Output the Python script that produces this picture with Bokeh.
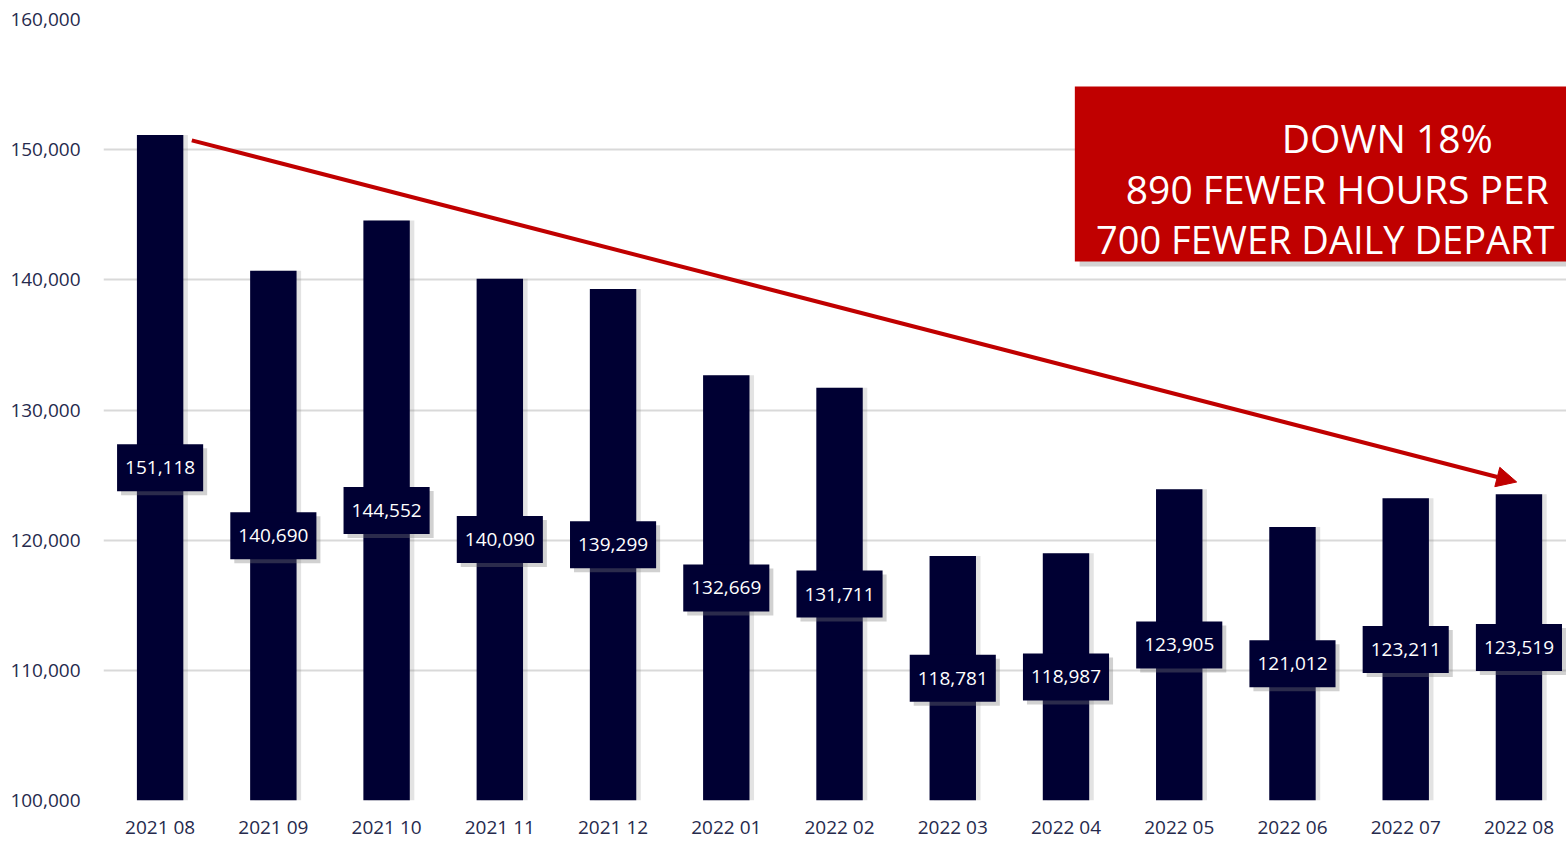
from bokeh.plotting import figure
from bokeh.models import (Range1d, FixedTicker, NumeralTickFormatter, ColumnDataSource,
                          Arrow, NormalHead, BoxAnnotation, Label)
from bokeh.core.properties import value
from bokeh.embed import file_html
from bokeh.resources import INLINE

categories = ["2021 08", "2021 09", "2021 10", "2021 11", "2021 12", "2022 01", "2022 02",
              "2022 03", "2022 04", "2022 05", "2022 06", "2022 07", "2022 08"]
values = [151118, 140690, 144552, 140090, 139299, 132669, 131711,
          118781, 118987, 123905, 121012, 123211, 123519]
y_ticks = [100000, 110000, 120000, 130000, 140000, 150000, 160000]
callout_lines = ["DOWN 18%", "890 FEWER HOURS PER", "700 FEWER DAILY DEPART"]

BASE = 100000
NAVY = "#000033"
RED = "#c00000"
FONT = "Open Sans"
AXIS_TEXT = "#262a4d"

xs = list(range(len(categories)))
src = ColumnDataSource(dict(
    x=xs,
    top=values,
    mid=[BASE + (v - BASE) / 2 for v in values],
    label=[f"{v:,}" for v in values],
    xs_shadow=[x + 0.04 for x in xs],
))

p = figure(width=1566, height=842, output_backend="svg", toolbar_location=None,
           x_range=Range1d(-0.5, 12.42), y_range=Range1d(100000, 160000),
           min_border_left=103, min_border_right=0, min_border_top=19, min_border_bottom=42)
p.outline_line_color = None
p.background_fill_color = "white"
p.border_fill_color = "white"

# axes
p.xaxis.ticker = FixedTicker(ticks=xs)
p.xaxis.major_label_overrides = {i: c for i, c in enumerate(categories)}
p.yaxis.ticker = FixedTicker(ticks=y_ticks)
p.yaxis.formatter = NumeralTickFormatter(format="0,0")
for ax in (p.xaxis, p.yaxis):
    ax.axis_line_color = None
    ax.major_tick_line_color = None
    ax.minor_tick_line_color = None
    ax.major_tick_out = 0
    ax.major_label_text_font = FONT
    ax.major_label_text_font_size = "19px"
    ax.major_label_text_color = AXIS_TEXT
p.yaxis.major_label_standoff = 23
p.xaxis.major_label_standoff = 13

p.xgrid.grid_line_color = None
p.ygrid.ticker = FixedTicker(ticks=y_ticks)
p.ygrid.grid_line_color = "#d9d9d9"
p.ygrid.grid_line_width = 2

# bar shadows and bars
p.vbar(x="xs_shadow", top="top", bottom=BASE, width=0.41, source=src,
       fill_color="#808080", fill_alpha=0.22, line_color=None)
p.vbar(x="x", top="top", bottom=BASE, width=0.41, source=src,
       fill_color=NAVY, line_color=None)

# value labels (shadow + box)
p.text(x="x", y="mid", text="label", source=src, text_align="center", text_baseline="middle",
       text_font=value(FONT), text_font_size="19px", text_alpha=0,
       background_fill_color="#7a7a7a", background_fill_alpha=0.35,
       padding=dict(x=8, y=17), x_offset=4, y_offset=4)
p.text(x="x", y="mid", text="label", source=src, text_align="center", text_baseline="middle",
       text_font=value(FONT), text_font_size="19px", text_color="white",
       background_fill_color=NAVY, padding=dict(x=8, y=17))

# trend arrow
p.add_layout(Arrow(x_start=xs[0] + 0.28, y_start=values[0] - 400,
                   x_end=xs[-1] - 0.02, y_end=values[-1] + 950,
                   line_color=RED, line_width=4,
                   end=NormalHead(size=20, fill_color=RED, line_color=RED)))

# callout box
p.add_layout(BoxAnnotation(left=8.12, right=13.5, top=154853 - 380, bottom=141409 - 380,
                           fill_color="#808080", fill_alpha=0.35, line_color=None))
p.add_layout(BoxAnnotation(left=8.078, right=13.5, top=154853, bottom=141409,
                           fill_color=RED, fill_alpha=1.0, line_color=None))
for txt, xl, yb, fs in zip(callout_lines, [9.906, 8.528, 8.265], [150935, 147017, 143099],
                           ["39px", "39px", "38px"]):
    p.add_layout(Label(x=xl, y=yb, text=txt, text_align="left", text_baseline="alphabetic",
                       text_font=FONT, text_font_size=fs, text_color="white"))

open("out.html", "w").write(file_html(p, INLINE))
